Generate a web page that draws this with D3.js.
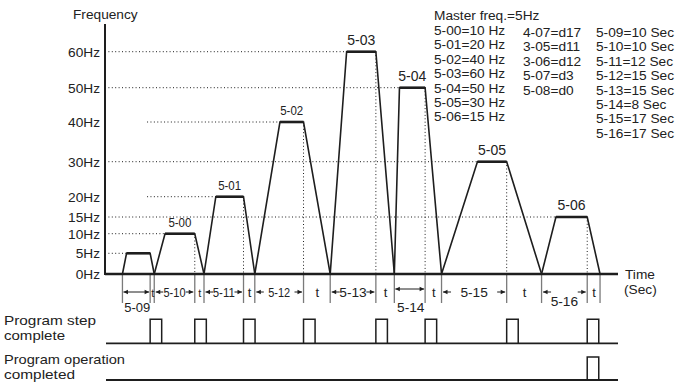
<!DOCTYPE html>
<html><head><meta charset="utf-8">
<script src="https://cdn.jsdelivr.net/npm/d3@7"></script>
<style>html,body{margin:0;padding:0;background:#fff;} svg{display:block;font-family:Arial,"Liberation Sans",Helvetica,sans-serif;}</style>
</head><body><svg id="c" width="677" height="382"></svg>
<script>
// ---- data ----
const freqTicks = [0, 5, 10, 15, 20, 30, 40, 50, 60];
const freqTickLabels = ["0Hz", "5Hz", "10Hz", "15Hz", "20Hz", "30Hz", "40Hz", "50Hz", "60Hz"];
const stepFreq = [5, 10, 20, 40, 60, 50, 30, 15];
const stepLabels = ["", "5-00", "5-01", "5-02", "5-03", "5-04", "5-05", "5-06"];
// schematic time units (0..100 along the time axis)
const rampStart = [3.4, 9.6, 19.3, 29.2, 43.9, 56.4, 65.6, 85.1];
const plateauStart = [4.2, 11.7, 21.6, 34.1, 47.1, 57.4, 72.6, 87.9];
const plateauEnd = [8.8, 17.5, 27.0, 38.7, 52.8, 62.4, 78.3, 94.0];
const rampEnd = [9.6, 19.3, 29.2, 43.9, 56.4, 65.6, 85.1, 96.5];
const guideStart = [0, 0, 8.2, 8.2, 0, 0, 0, 0];
const pulseWidth = 2.25;
const stepTimeParams = ["5-09", "5-10", "5-11", "5-12", "5-13", "5-14", "5-15", "5-16"];
const stepTimes = [10, 10, 12, 15, 15, 8, 17, 17];
const freqParams = ["5-00", "5-01", "5-02", "5-03", "5-04", "5-05", "5-06"];
const otherSettings = ["4-07=d17", "3-05=d11", "3-06=d12", "5-07=d3", "5-08=d0"];
const masterFreq = stepFreq[0];

// ---- scales ----
const svg = d3.select("#c");
const x = d3.scaleLinear().domain([0, 100]).range([105, 618]);
const y = d3.scaleLinear().domain(freqTicks).range([274, 253.3, 233.7, 217, 196.7, 161.7, 122, 87.7, 51.7]);
const INK = "#1e1e1e", TXT = "#222";

// ---- dotted guides ----
const g = svg.append("g");
stepFreq.forEach((f, i) => {
  g.append("line").attr("x1", x(guideStart[i])).attr("x2", x(plateauStart[i]))
    .attr("y1", y(f)).attr("y2", y(f))
    .attr("stroke", INK).attr("stroke-width", 1).attr("stroke-dasharray", "1,2.4");
  if (i > 0) {
    g.append("line").attr("x1", x(plateauEnd[i])).attr("x2", x(plateauEnd[i]))
      .attr("y1", y(f)).attr("y2", y(0))
      .attr("stroke", INK).attr("stroke-width", 1).attr("stroke-dasharray", "1,2.4");
  }
});

// ---- ticks below axis ----
const tickTimes = [rampStart[0]].concat(...plateauEnd.map((p, i) => [p, rampEnd[i]]));
g.selectAll(".tk").data(tickTimes).enter().append("line")
  .attr("x1", d => x(d)).attr("x2", d => x(d)).attr("y1", y(0)).attr("y2", 303)
  .attr("stroke", "#7a7a7a").attr("stroke-width", 1.3);

// ---- trapezoids ----
const line = d3.line().x(d => x(d[0])).y(d => y(d[1]));
stepFreq.forEach((f, i) => {
  const pts = [[rampStart[i], 0], [plateauStart[i], f], [plateauEnd[i], f], [rampEnd[i], 0]];
  g.append("path").attr("d", line(pts)).attr("fill", "none").attr("stroke", INK)
    .attr("stroke-width", 1.6).attr("stroke-linejoin", "miter");
  g.append("line").attr("x1", x(plateauStart[i])).attr("x2", x(plateauEnd[i]))
    .attr("y1", y(f)).attr("y2", y(f)).attr("stroke", INK).attr("stroke-width", 2.6);
  if (stepLabels[i]) {
    const small = i <= 3;
    const t = g.append("text").attr("x", x((plateauStart[i] + plateauEnd[i]) / 2))
      .attr("y", y(f) - 7).attr("text-anchor", "middle").attr("fill", TXT)
      .attr("font-size", small ? 12.5 : 14).text(stepLabels[i]);
    if (small) t.attr("textLength", 23).attr("lengthAdjust", "spacingAndGlyphs");
  }
});

// ---- axes ----
g.append("line").attr("x1", x(0)).attr("x2", x(0)).attr("y1", 24).attr("y2", y(0) + 1)
  .attr("stroke", INK).attr("stroke-width", 2);
g.append("line").attr("x1", x(0)).attr("x2", x(100)).attr("y1", y(0)).attr("y2", y(0))
  .attr("stroke", INK).attr("stroke-width", 2.4);
const yAxis = d3.axisLeft(y).tickValues(freqTicks).tickSize(0).tickPadding(5)
  .tickFormat((d, i) => freqTickLabels[i]);
const ya = g.append("g").attr("transform", `translate(${x(0)},0)`).call(yAxis);
ya.select(".domain").remove();
ya.selectAll("text").attr("font-size", 13.7).attr("fill", TXT)
  .attr("font-family", "Arial, 'Liberation Sans', sans-serif");

g.append("text").attr("x", 73).attr("y", 19).attr("font-size", 13.7).attr("fill", TXT).text("Frequency");
g.append("text").attr("x", 625).attr("y", 279).attr("font-size", 13.7).attr("fill", TXT).text("Time");
g.append("text").attr("x", 624).attr("y", 294).attr("font-size", 13.7).attr("fill", TXT).text("(Sec)");

// ---- interval annotations ----
function head(px, py, dir) {
  g.append("path").attr("d", `M${px},${py} l${-dir * 4.5},-2.2 l0,4.4 z`).attr("fill", INK);
}
function arrow(xa, xb, py, headA, headB) {
  g.append("line").attr("x1", xa).attr("x2", xb).attr("y1", py).attr("y2", py)
    .attr("stroke", INK).attr("stroke-width", 1);
  if (headA) head(xa, py, -1);
  if (headB) head(xb, py, 1);
}
const rowY = 292;
stepTimeParams.forEach((name, i) => {
  const a = x(i == 0 ? rampStart[0] : rampEnd[i - 1]);
  const b = x(plateauEnd[i]);
  const mid = (a + b) / 2;
  if (i == 0 || i == 5) {
    const ay = i == 0 ? 292 : 289;
    arrow(a + 1, b - 1, ay, true, true);
    g.append("text").attr("x", mid + 1).attr("y", 312).attr("text-anchor", "middle")
      .attr("font-size", i == 0 ? 13 : 13.7).attr("fill", TXT).text(name);
  } else {
    const small = i <= 3;
    const fs = small ? 12 : 13.7;
    const low = i == 7 ? 9 : 0;
    const t = g.append("text").attr("x", mid).attr("y", rowY + 4.5 + low).attr("text-anchor", "middle")
      .attr("font-size", fs).attr("fill", TXT).text(name);
    if (small) t.attr("textLength", 22).attr("lengthAdjust", "spacingAndGlyphs");
    const aw = small ? 7.5 : 8;
    arrow(a + 1.5, a + 1.5 + aw, rowY, true, false);
    arrow(b - 1.5 - aw, b - 1.5, rowY, false, true);
  }
  // "t" label for deceleration gap
  const ta = x(plateauEnd[i]), tb = x(rampEnd[i]);
  g.append("text").attr("x", (ta + tb) / 2 + 0.5).attr("y", rowY + 4.5).attr("text-anchor", "middle")
    .attr("font-size", i <= 1 ? 11 : 13).attr("fill", TXT).text("t");
});

// ---- program step / operation signals ----
const stepLineY = 343.3, opLineY = 380;
g.append("line").attr("x1", 106).attr("x2", x(100)).attr("y1", stepLineY).attr("y2", stepLineY)
  .attr("stroke", INK).attr("stroke-width", 1.8);
g.append("line").attr("x1", 106).attr("x2", x(100)).attr("y1", opLineY).attr("y2", opLineY)
  .attr("stroke", INK).attr("stroke-width", 1.8);
plateauEnd.forEach((p) => {
  g.append("path").attr("d", `M${x(p)},${stepLineY} V${stepLineY - 24} H${x(p + pulseWidth)} V${stepLineY}`)
    .attr("fill", "none").attr("stroke", INK).attr("stroke-width", 1.5);
});
const lastP = plateauEnd[plateauEnd.length - 1];
g.append("path").attr("d", `M${x(lastP)},${opLineY} V${opLineY - 23} H${x(lastP + pulseWidth)} V${opLineY}`)
  .attr("fill", "none").attr("stroke", INK).attr("stroke-width", 1.5);

const lbl = [["Program step", 325, 92], ["complete", 339.5, 61], ["Program operation", 364, 121], ["completed", 378.5, 71]];
lbl.forEach(([s, yy, w]) => {
  g.append("text").attr("x", 4).attr("y", yy).attr("font-size", 12.6).attr("fill", TXT)
    .attr("textLength", w).attr("lengthAdjust", "spacingAndGlyphs").text(s);
});

// ---- parameter legend ----
const fs = 13.7, lh = 14.4;
g.append("text").attr("x", 434).attr("y", 20).attr("font-size", fs).attr("fill", TXT)
  .text(`Master freq.=${masterFreq}Hz`);
freqParams.forEach((p, i) => {
  g.append("text").attr("x", 434).attr("y", 35 + i * lh).attr("font-size", fs).attr("fill", TXT)
    .text(`${p}=${stepFreq[i + 1]} Hz`);
});
otherSettings.forEach((s, i) => {
  g.append("text").attr("x", 523).attr("y", 37 + i * lh).attr("font-size", fs).attr("fill", TXT).text(s);
});
stepTimeParams.forEach((p, i) => {
  g.append("text").attr("x", 596).attr("y", 37 + i * lh).attr("font-size", fs).attr("fill", TXT)
    .text(`${p}=${stepTimes[i]} Sec`);
});
</script></body></html>
